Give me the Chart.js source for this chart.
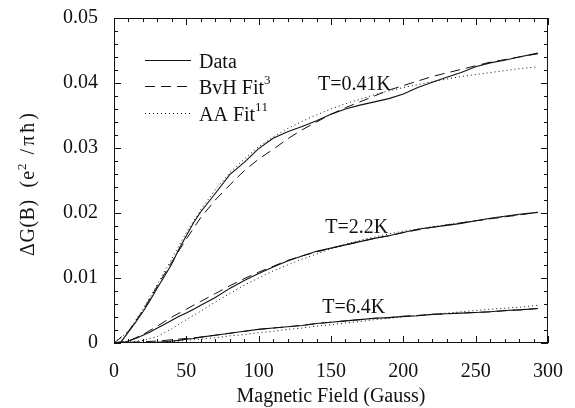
<!DOCTYPE html>
<html>
<head>
<meta charset="utf-8">
<script src="https://cdn.jsdelivr.net/npm/chart.js@4/dist/chart.umd.min.js"></script>
<style>
  html, body { margin: 0; padding: 0; background: #fff; }
  #wrap { width: 575px; height: 408px; }
</style>
</head>
<body>
<div id="wrap"><canvas id="wl-chart"></canvas></div>
<script>
// magnetic field grid (Gauss) for the measured traces
const field = [0, 5, 10, 15, 20, 25, 30, 35, 40, 45, 50, 55, 60, 70, 80, 90, 100, 110, 120, 130,
    140, 150, 160, 170, 180, 190, 200, 210, 220, 230, 240, 250, 260, 270, 280, 293];

// measured delta G (e^2/pi hbar)
const data041 = [0, 0.0002, 0.0017, 0.0032, 0.0048, 0.0066, 0.0085, 0.0103, 0.0122, 0.0145, 0.0165,
    0.0185, 0.0202, 0.0230, 0.0259, 0.0278, 0.0299, 0.0315, 0.0325, 0.0333, 0.0342, 0.0352, 0.0360,
    0.0366, 0.0371, 0.0376, 0.0383, 0.0393, 0.0401, 0.0409, 0.0416, 0.0425, 0.0431, 0.0435, 0.0440, 0.0446];
const data22 = [0, 0, 0.0003, 0.0007, 0.0012, 0.0017, 0.0023, 0.0029, 0.0035, 0.0041, 0.0046,
    0.0052, 0.0058, 0.0070, 0.0084, 0.0096, 0.0107, 0.0117, 0.0126, 0.0134, 0.0141, 0.0146, 0.0151,
    0.0156, 0.0161, 0.0165, 0.0170, 0.0175, 0.0178, 0.0181, 0.0184, 0.0188, 0.0192, 0.0195, 0.0198, 0.0201];
const data64 = [0, 0, 0, 0, 0, 0, 0.0001, 0.0002, 0.0003, 0.0004, 0.0006,
    0.0007, 0.0009, 0.0012, 0.0015, 0.0018, 0.0021, 0.0023, 0.0025, 0.0027, 0.0030, 0.0032, 0.0034,
    0.0036, 0.0038, 0.0039, 0.0041, 0.0042, 0.0044, 0.0045, 0.0046, 0.0047, 0.0048, 0.0050, 0.0051, 0.0053];

// field grid for the two fits
const fitField = [0, 10, 20, 30, 40, 50, 60, 70, 80, 90, 100, 110, 120, 130, 140, 150, 160, 170,
    180, 190, 200, 220, 240, 260, 280, 293];

const bvh041 = [0, 0.0018, 0.0050, 0.0088, 0.0125, 0.0160, 0.0193, 0.0220, 0.0243, 0.0265, 0.0283,
    0.0298, 0.0314, 0.0328, 0.0340, 0.0352, 0.0362, 0.0371, 0.0380, 0.0389, 0.0396, 0.0410, 0.0421,
    0.0432, 0.0440, 0.0445];
const bvh22 = [0, 0.0003, 0.0013, 0.0026, 0.0040, 0.0052, 0.0064, 0.0076, 0.0088, 0.0099, 0.0109,
    0.0118, 0.0127, 0.0134, 0.0140, 0.0146, 0.0151, 0.0156, 0.0161, 0.0165, 0.0170, 0.0178, 0.0185,
    0.0191, 0.0197, 0.0201];
const bvh64 = [0, 0.0001, 0.0002, 0.0003, 0.0005, 0.0007, 0.0009, 0.0012, 0.0015, 0.0018, 0.0021,
    0.0023, 0.0025, 0.0027, 0.0030, 0.0032, 0.0034, 0.0036, 0.0038, 0.0039, 0.0041, 0.0044, 0.0046,
    0.0048, 0.0051, 0.0053];

const aa041 = [0, 0.0018, 0.0052, 0.0090, 0.0130, 0.0170, 0.0205, 0.0236, 0.0262, 0.0283, 0.0302,
    0.0317, 0.0330, 0.0341, 0.0351, 0.0360, 0.0368, 0.0375, 0.0382, 0.0388, 0.0393, 0.0402, 0.0410,
    0.0416, 0.0422, 0.0425];
const aa22 = [0, 0.0001, 0.0004, 0.0010, 0.0022, 0.0036, 0.0049, 0.0063, 0.0076, 0.0089, 0.0100,
    0.0111, 0.0120, 0.0129, 0.0137, 0.0145, 0.0152, 0.0158, 0.0163, 0.0168, 0.0172, 0.0179, 0.0185,
    0.0191, 0.0197, 0.0201];
const aa64 = [0, 0, 0.0001, 0.0001, 0.0002, 0.0004, 0.0006, 0.0008, 0.0011, 0.0013, 0.0016,
    0.0018, 0.0021, 0.0023, 0.0026, 0.0028, 0.0031, 0.0033, 0.0036, 0.0038, 0.0040, 0.0044, 0.0048,
    0.0052, 0.0055, 0.0058];

// temperature labels: text, field, deltaG where the text starts
const tempLabels = [
    ['T=0.41K', 141, 0.0389],
    ['T=2.2K', 146, 0.0169],
    ['T=6.4K', 144, 0.0046]
];

const xTickLabels = ['0', '50', '100', '150', '200', '250', '300'];
const yTickLabels = ['0', '0.01', '0.02', '0.03', '0.04', '0.05'];

const SERIF = "'Liberation Serif', 'DejaVu Serif', serif";
const INK = '#111';
const FONT = 20;
const SUP = 13;

const styles = {
    data: { dash: [], width: 1.1 },
    bvh: { dash: [10, 6], width: 1 },
    aa: { dash: [1, 3], width: 1 }
};

function points(xs, ys) {
    return xs.map((x, i) => ({ x: x, y: ys[i] }));
}

function series(label, kind, xs, ys) {
    return {
        label: label,
        data: points(xs, ys),
        borderColor: INK,
        borderWidth: styles[kind].width,
        borderDash: styles[kind].dash,
        pointRadius: 0,
        tension: 0,
        fill: false
    };
}

// parts are [text, superscript?, extra spacing after each glyph]
function partWidth(ctx, text, isSup, track) {
    ctx.font = (isSup ? SUP : FONT) + 'px ' + SERIF;
    let w = 0;
    for (const ch of text) w += ctx.measureText(ch).width + track;
    return w + (isSup ? 1 : 0);
}

function supText(ctx, parts, x, y) {
    parts.forEach(([text, isSup, track = 0]) => {
        ctx.font = (isSup ? SUP : FONT) + 'px ' + SERIF;
        let cx = x;
        for (const ch of text) {
            ctx.fillText(ch, cx, isSup ? y - 8 : y);
            cx += ctx.measureText(ch).width + track;
        }
        x += partWidth(ctx, text, isSup, track);
    });
}

function supWidth(ctx, parts) {
    return parts.reduce((w, [text, isSup, track = 0]) => w + partWidth(ctx, text, isSup, track), 0);
}

// inward ticks on all four sides, frame, legend and the text labels
const decorations = {
    id: 'decorations',
    afterDraw(chart) {
        const ctx = chart.ctx;
        const a = chart.chartArea;
        const xs = chart.scales.x;
        const ys = chart.scales.y;
        ctx.save();
        ctx.strokeStyle = INK;
        ctx.fillStyle = INK;
        ctx.lineWidth = 1;
        ctx.setLineDash([]);
        ctx.strokeRect(a.left + 0.5, a.top + 0.5, a.right - a.left - 1, a.bottom - a.top - 1);

        ctx.beginPath();
        for (let b = 0; b <= 300; b += 10) {
            const px = Math.round(xs.getPixelForValue(b)) + 0.5;
            const len = b % 50 === 0 ? 7 : 4;
            ctx.moveTo(px, a.bottom);
            ctx.lineTo(px, a.bottom - len);
            ctx.moveTo(px, a.top);
            ctx.lineTo(px, a.top + len);
        }
        for (let i = 0; i <= 25; i++) {
            const py = Math.round(ys.getPixelForValue(i * 0.002)) + 0.5;
            const len = i % 5 === 0 ? 7 : 4;
            ctx.moveTo(a.left, py);
            ctx.lineTo(a.left + len, py);
            ctx.moveTo(a.right, py);
            ctx.lineTo(a.right - len, py);
        }
        ctx.stroke();

        // legend
        const legend = [
            [[['Data', false]], 'data', 42],
            [[['BvH Fit', false], ['3', true]], 'bvh', 68],
            [[['AA Fit', false], ['11', true]], 'aa', 95]
        ];
        ctx.textAlign = 'left';
        ctx.textBaseline = 'middle';
        legend.forEach(([parts, kind, dy]) => {
            const y = a.top + dy + 0.5;
            ctx.setLineDash(styles[kind].dash);
            ctx.lineWidth = styles[kind].width;
            ctx.beginPath();
            ctx.moveTo(a.left + 31, y);
            ctx.lineTo(a.left + 77, y);
            ctx.stroke();
            supText(ctx, parts, a.left + 85, y + 2);
        });
        ctx.setLineDash([]);

        // temperature labels
        ctx.font = FONT + 'px ' + SERIF;
        ctx.textBaseline = 'alphabetic';
        tempLabels.forEach(([text, b, g]) => {
            ctx.fillText(text, xs.getPixelForValue(b), ys.getPixelForValue(g));
        });

        // axis titles
        ctx.textAlign = 'center';
        ctx.fillText('Magnetic Field (Gauss)', (a.left + a.right) / 2, 402);

        const yTitle = [
            ['\u0394G(B)', false, 0.5],
            ['  (e', false, 1],
            ['2', true, 0],
            [' /\u03c0\u0127)', false, 3]
        ];
        ctx.translate(34, 183);
        ctx.rotate(-Math.PI / 2);
        ctx.textAlign = 'left';
        supText(ctx, yTitle, -supWidth(ctx, yTitle) / 2, 0);
        ctx.restore();
    }
};

const ctx = document.getElementById('wl-chart');
new Chart(ctx, {
    type: 'line',
    data: {
        datasets: [
            series('Data', 'data', field, data041),
            series('Data', 'data', field, data22),
            series('Data', 'data', field, data64),
            series('BvH Fit', 'bvh', fitField, bvh041),
            series('BvH Fit', 'bvh', fitField, bvh22),
            series('BvH Fit', 'bvh', fitField, bvh64),
            series('AA Fit', 'aa', fitField, aa041),
            series('AA Fit', 'aa', fitField, aa22),
            series('AA Fit', 'aa', fitField, aa64)
        ]
    },
    plugins: [decorations],
    options: {
        responsive: true,
        maintainAspectRatio: false,
        animation: false,
        layout: { padding: { top: 18, right: 27, left: 0, bottom: 0 } },
        plugins: {
            legend: { display: false },
            tooltip: { enabled: false }
        },
        scales: {
            x: {
                type: 'linear',
                min: 0,
                max: 300,
                afterFit: (scale) => {
                    scale.height = 65;
                    scale.paddingLeft = 0;
                    scale.paddingRight = 0;
                },
                afterBuildTicks: (scale) => {
                    scale.ticks = xTickLabels.map(t => ({ value: Number(t) }));
                },
                grid: { display: false, drawTicks: false },
                border: { display: false },
                ticks: {
                    padding: 17,
                    color: INK,
                    font: { family: SERIF, size: FONT },
                    maxRotation: 0,
                    autoSkip: false,
                    callback: (v) => String(v)
                }
            },
            y: {
                type: 'linear',
                min: 0,
                max: 0.05,
                afterFit: (scale) => {
                    scale.width = 114;
                    scale.paddingTop = 0;
                    scale.paddingBottom = 0;
                },
                afterBuildTicks: (scale) => {
                    scale.ticks = yTickLabels.map(t => ({ value: Number(t) }));
                },
                grid: { display: false, drawTicks: false },
                border: { display: false },
                ticks: {
                    padding: 16,
                    color: INK,
                    font: { family: SERIF, size: FONT },
                    autoSkip: false,
                    callback: (v) => yTickLabels[Math.round(v * 100)]
                }
            }
        }
    }
});
</script>
</body>
</html>
